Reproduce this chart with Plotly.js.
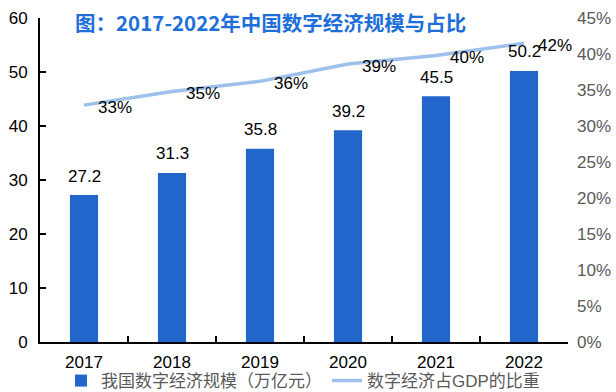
<!DOCTYPE html>
<html>
<head>
<meta charset="utf-8">
<script src="https://cdn.plot.ly/plotly-3.0.1.min.js"></script>
<style>
html,body{margin:0;padding:0;background:#fff;}
#chart{width:616px;height:392px;}
</style>
</head>
<body>
<div id="chart"></div>
<script>
const years = ['2017', '2018', '2019', '2020', '2021', '2022'];
const scale = [27.2, 31.3, 35.8, 39.2, 45.5, 50.2];
const share = [32.9, 34.8, 36.2, 38.6, 39.8, 41.5];
const barName = '我国数字经济规模（万亿元）';
const lineName = '数字经济占GDP的比重';
const titleText = '图：2017-2022年中国数字经济规模与占比';

const numFont = 'Liberation Sans, Arial, Noto Sans CJK SC, sans-serif';

const traces = [
  {
    type: 'bar', x: years, y: scale, name: barName,
    marker: {color: '#2266CC'}, yaxis: 'y', hoverinfo: 'skip'
  },
  {
    type: 'scatter', mode: 'lines', x: years, y: share, name: lineName,
    line: {color: '#9DC0EC', width: 3.5}, yaxis: 'y2', hoverinfo: 'skip'
  }
];

const annotations = [];
years.forEach((yr, i) => {
  // category axis: position annotations by category index
  annotations.push({
    x: i, y: scale[i], xref: 'x', yref: 'y', text: scale[i].toFixed(1),
    showarrow: false, yshift: 19, yanchor: 'middle',
    font: {family: numFont, size: 17, color: '#000'}
  });
  annotations.push({
    x: i, y: share[i], xref: 'x', yref: 'y2', text: Math.round(share[i]) + '%',
    showarrow: false, xshift: 31, yshift: -2, yanchor: 'middle',
    font: {family: numFont, size: 17, color: '#000'}
  });
});

const layout = {
  width: 616, height: 392,
  margin: {l: 40, r: 48, t: 18, b: 50, pad: 0},
  paper_bgcolor: '#fff', plot_bgcolor: '#fff',
  font: {family: numFont, size: 17, color: '#000'},
  title: {
    text: titleText, x: 75 / 616, xanchor: 'left', xref: 'container',
    y: 1 - 24 / 392, yanchor: 'middle', yref: 'container',
    font: {family: 'Noto Sans CJK SC, sans-serif', size: 20.5, color: '#1E6FD9', weight: 'bold'}
  },
  bargap: 0.68,
  showlegend: true,
  legend: {
    orientation: 'h', x: 61 / 616, xanchor: 'left', xref: 'container',
    y: 1 - 381 / 392, yanchor: 'middle', yref: 'container',
    font: {family: numFont, size: 17, color: '#595959'},
    itemgap: 14, bgcolor: 'rgba(0,0,0,0)'
  },
  xaxis: {
    type: 'category', range: [-0.5, years.length - 0.5],
    showline: true, linecolor: '#000', linewidth: 2,
    ticks: 'inside', tickson: 'boundaries', ticklen: 6, tickcolor: '#000', tickwidth: 1.5,
    showgrid: false, zeroline: false, ticklabelstandoff: 4,
    tickfont: {family: numFont, size: 17, color: '#000'}
  },
  yaxis: {
    range: [0, 60], dtick: 10, showline: true, linecolor: '#000', linewidth: 2,
    ticks: 'inside', ticklen: 6, tickcolor: '#000', tickwidth: 1.5,
    showgrid: false, zeroline: false, ticklabelstandoff: 7,
    tickfont: {family: numFont, size: 17, color: '#000'}
  },
  yaxis2: {
    overlaying: 'y', side: 'right', range: [0, 45], dtick: 5, ticksuffix: '%',
    showline: false, showgrid: false, zeroline: false, ticks: '',
    ticklabelstandoff: 8,
    tickfont: {family: numFont, size: 17, color: '#595959'}
  },
  annotations: annotations
};

Plotly.newPlot('chart', traces, layout, {staticPlot: true, displayModeBar: false});
</script>
</body>
</html>
